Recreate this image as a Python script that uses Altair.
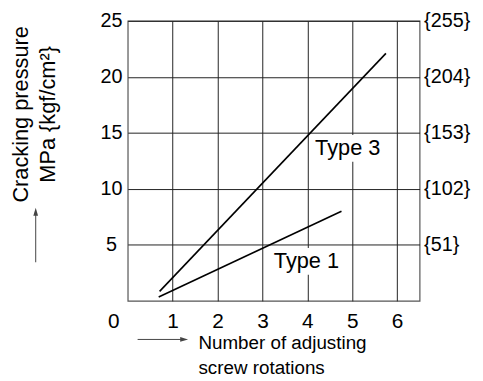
import altair as alt
import pandas as pd

# ---- data ----
type1_x = [0.69, 4.76]
type1_y = [0.35, 8.0]
type3_x = [0.71, 5.75]
type3_y = [0.85, 22.1]

label_text = ["Type 3", "Type 1"]
label_x = [4.9, 3.98]
label_y = [13.04, 2.96]

x_ticks = [1, 2, 3, 4, 5, 6]
y_ticks = [5, 10, 15, 20, 25]
kgf_factor = 10.2  # MPa -> kgf/cm2 label on right axis

FONT = "Liberation Sans"

lines_df = pd.DataFrame({
    "x": type1_x + type3_x,
    "y": type1_y + type3_y,
    "series": ["Type 1"] * len(type1_x) + ["Type 3"] * len(type3_x),
})
labels_df = pd.DataFrame({"label": label_text, "x": label_x, "y": label_y})
boxes_df = pd.DataFrame({
    "x1": [v - 0.8 for v in label_x],
    "x2": [v + 0.8 for v in label_x],
    "y1": [v - 0.62 for v in label_y],
    "y2": [v + 1.77 for v in label_y],
})
origin_df = pd.DataFrame({"x": [0], "y": [0], "t": ["0"]})

xscale = alt.Scale(domain=[0, 6.5], nice=False, zero=False)
yscale = alt.Scale(domain=[0, 25], nice=False, zero=False)

x_axis = alt.Axis(
    values=x_ticks, grid=True, gridColor="#222", gridWidth=1, domain=False,
    ticks=False, labelFontSize=21, labelPadding=10, labelColor="#000",
    labelFont=FONT,
    title=["Number of adjusting", "screw rotations"],
    titleFont=FONT, titleFontSize=19, titleFontWeight="normal", titleColor="#000",
    titleAlign="left", titleAnchor="start", titleBaseline="top",
    titleX=71, titleY=33, titleLineHeight=25,
)
y_axis = alt.Axis(
    values=y_ticks, grid=True, gridColor="#222", gridWidth=1, domain=False,
    ticks=False, labelFontSize=20, labelPadding=17, labelAlign="center",
    labelColor="#000", labelFont=FONT,
    title=["Cracking pressure", "MPa {kgf/cm²}"],
    titleFont=FONT, titleFontSize=22, titleFontWeight="normal", titleColor="#000",
    titleAngle=270, titleAlign="center", titleBaseline="top",
    titleX=-118, titleY=94, titleLineHeight=27,
)
y_axis_right = alt.Axis(
    orient="right", values=y_ticks, grid=False, domain=False, ticks=False,
    labelFontSize=20, labelPadding=4, labelAlign="left", labelColor="#000",
    labelFont=FONT,
    labelExpr="'{' + format(datum.value * %s, 'd') + '}'" % kgf_factor,
    title=None,
)

X = lambda f: alt.X(f, scale=xscale, axis=x_axis)

boxes = alt.Chart(boxes_df).mark_rect(color="white").encode(
    x=X("x1:Q"),
    x2="x2:Q",
    y=alt.Y("y1:Q", scale=yscale, axis=None),
    y2="y2:Q",
)

lines = alt.Chart(lines_df).mark_line(color="black", strokeWidth=1.6).encode(
    x=X("x:Q"),
    y=alt.Y("y:Q", scale=yscale, axis=y_axis),
    detail="series:N",
)

right = alt.Chart(lines_df).mark_line(opacity=0).encode(
    x=X("x:Q"),
    y=alt.Y("y:Q", scale=yscale, axis=y_axis_right),
    detail="series:N",
)

labels = alt.Chart(labels_df).mark_text(
    font=FONT, fontSize=22, color="black", baseline="alphabetic", align="center"
).encode(
    x=X("x:Q"),
    y=alt.Y("y:Q", scale=yscale, axis=None),
    text="label:N",
)

origin = alt.Chart(origin_df).mark_text(
    font=FONT, fontSize=21, color="black", dx=-14, dy=21
).encode(
    x=X("x:Q"),
    y=alt.Y("y:Q", scale=yscale, axis=None),
    text="t:N",
)

ARROW = "#444"
y_arrow = alt.Chart(origin_df).mark_rule(color=ARROW, strokeWidth=1).encode(
    x=alt.value(-93), y=alt.value(244), y2=alt.value(195)
)
y_head = alt.Chart(origin_df).mark_point(
    shape="M0,-1L0.6,1L-0.6,1Z", filled=True, color=ARROW, opacity=1, size=64
).encode(x=alt.value(-93), y=alt.value(193))
x_arrow = alt.Chart(origin_df).mark_rule(color=ARROW, strokeWidth=1).encode(
    x=alt.value(10), x2=alt.value(56), y=alt.value(322)
)
x_head = alt.Chart(origin_df).mark_point(
    shape="M1,0L-1,-0.6L-1,0.6Z", filled=True, color=ARROW, opacity=1, size=64
).encode(x=alt.value(57), y=alt.value(322))

chart = alt.layer(
    boxes, lines, labels, origin, right, y_arrow, y_head, x_arrow, x_head
).resolve_axis(y="independent").properties(
    width=295, height=283,
    padding={"left": 121, "top": 11, "right": 56, "bottom": 79},
    autosize="none",
    background="white",
).configure(
    font=FONT,
    view=alt.ViewConfig(stroke="#555", strokeWidth=1.2, fill="white"),
)

chart.save("out.html", embed_options={"renderer": "svg", "actions": False})
